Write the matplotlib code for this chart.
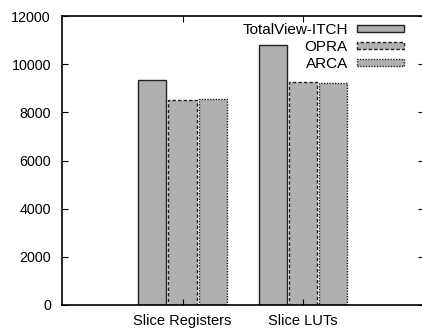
import matplotlib
matplotlib.use("Agg")
import matplotlib.pyplot as plt
import numpy as np

categories = ["Slice Registers", "Slice LUTs"]
series_names = ["TotalView-ITCH", "OPRA", "ARCA"]
itch = [9340, 10790]
opra = [8510, 9270]
arca = [8550, 9230]
yticks = [0, 2000, 4000, 6000, 8000, 10000, 12000]

plt.rcParams['font.family'] = ['Liberation Sans', 'DejaVu Sans']
plt.rcParams['font.size'] = 10

fig = plt.figure(figsize=(4.22, 3.28), dpi=100)
ax = fig.add_axes([62/422, 23/328, 361.5/422, 289/328])

x = np.arange(1, len(categories) + 1)
width = 0.233
offsets = [-0.25, 0.0, 0.25]
styles = ['-', (0, (2.5, 1.5)), (0, (1, 1))]
fill = '#b0b0b0'
handles = []
for vals, off, ls, name in zip([itch, opra, arca], offsets, styles, series_names):
    b = ax.bar(x + off, vals, width, color=fill, edgecolor='#222222',
               linewidth=1.0, linestyle=ls, label=name)
    handles.append(b)

ax.set_xlim(0, 3)
ax.set_ylim(0, 12000)
ax.set_yticks(yticks)
ax.set_xticks(x)
ax.set_xticklabels(categories, fontsize=10.5)
ax.tick_params(axis='both', direction='in', length=4, width=0.8,
               top=True, right=True, colors='black')
ax.tick_params(axis='y', pad=8, labelsize=10.3)
ax.tick_params(axis='x', pad=6.5)
for s in ax.spines.values():
    s.set_linewidth(1.2)

ax.legend(handles=handles, labels=series_names, loc='upper right',
          bbox_to_anchor=(0.947, 0.976), frameon=False, markerfirst=False,
          handlelength=3.1, handleheight=0.4, labelspacing=0.2,
          handletextpad=0.6, borderaxespad=0, borderpad=0, fontsize=11)

fig.savefig("out.png", dpi=100)
